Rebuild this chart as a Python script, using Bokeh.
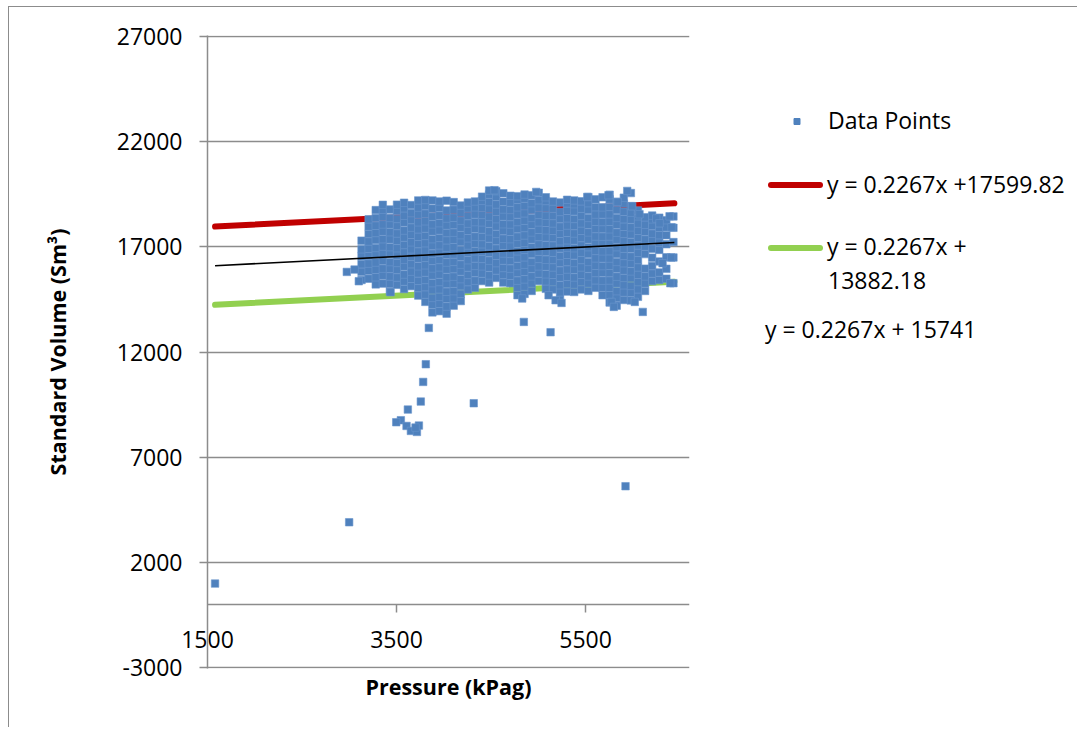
from bokeh.plotting import figure
from bokeh.layouts import row
from bokeh.models import Range1d, LinearAxis, FixedTicker, Grid
from bokeh.core.properties import value
from bokeh.embed import file_html
from bokeh.resources import INLINE

# ---------------- data ----------------
# main cloud: pressure column (kPag) and the volumes (Sm3) read in that column
cloud_pressure = [3130, 3205, 3280, 3355, 3430, 3505, 3580, 3655, 3730, 3805, 3880,
                  3955, 4030, 4105, 4180, 4255, 4330, 4405, 4480, 4555, 4630, 4705,
                  4780, 4855, 4930, 5005, 5080, 5155, 5230, 5305, 5380, 5455, 5530,
                  5605, 5680, 5755, 5830, 5905, 5980, 6055, 6130, 6205, 6280, 6355, 6430]
cloud_volume = [
    [15420, 15810, 16170, 16540, 16880, 17290],
    [15480, 15860, 16200, 16560, 16900, 17250, 17610, 17960, 18300],
    [15210, 15550, 15910, 16250, 16620, 16940, 17320, 17650, 18000, 18370, 18740],
    [15250, 15630, 15960, 16330, 16670, 17010, 17360, 17720, 18060, 18420, 18760, 18990],
    [14870, 15240, 15590, 15950, 16270, 16660, 16980, 17350, 17690, 18060, 18370, 18770],
    [15190, 15540, 15900, 16230, 16590, 16930, 17280, 17630, 17990, 18320, 18700, 19000],
    [14990, 15350, 15680, 16060, 16380, 16750, 17080, 17440, 17770, 18150, 18470, 18830, 19090],
    [15130, 15480, 15820, 16170, 16520, 16880, 17210, 17570, 17910, 18270, 18600, 18980],
    [14680, 15040, 15380, 15740, 16070, 16440, 16770, 17130, 17470, 17830, 18160, 18530, 18860, 19200],
    [14380, 14730, 15080, 15420, 15780, 16120, 16470, 16820, 17170, 17510, 17870, 18210, 18570, 18930, 19220],
    [13880, 14250, 14570, 14940, 15270, 15640, 15970, 16330, 16670, 17030, 17360, 17730, 18060, 18430, 18810, 19200],
    [13940, 14290, 14620, 14980, 15320, 15680, 16020, 16370, 16720, 17070, 17420, 17780, 18120, 18480, 18850, 19150],
    [13820, 14160, 14530, 14860, 15230, 15550, 15920, 16250, 16620, 16950, 17310, 17650, 18010, 18340, 18720, 19190],
    [14200, 14550, 14890, 15250, 15580, 15940, 16280, 16640, 16980, 17330, 17670, 18030, 18380, 18760, 19120],
    [14420, 14760, 15130, 15460, 15830, 16150, 16520, 16850, 17220, 17550, 17910, 18240, 18610, 18960],
    [14970, 15320, 15660, 16020, 16360, 16720, 17060, 17400, 17760, 18100, 18460, 18830, 19100],
    [15050, 15390, 15760, 16090, 16450, 16780, 17150, 17480, 17850, 18170, 18540, 18870, 19150],
    [15370, 15730, 16070, 16420, 16770, 17120, 17460, 17820, 18160, 18510, 18850, 19180, 19380],
    [15300, 15640, 16010, 16340, 16710, 17030, 17400, 17730, 18100, 18430, 18800, 19120, 19480, 19670],
    [15520, 15880, 16220, 16570, 16910, 17270, 17610, 17970, 18310, 18660, 19010, 19370, 19640],
    [15300, 15660, 15990, 16350, 16680, 17050, 17380, 17750, 18070, 18440, 18770, 19140, 19540],
    [15270, 15620, 15960, 16320, 16660, 17020, 17360, 17710, 18060, 18410, 18750, 19100, 19420],
    [14700, 15060, 15390, 15750, 16080, 16450, 16780, 17150, 17470, 17840, 18170, 18540, 18870, 19230, 19400],
    [14760, 15110, 15450, 15810, 16150, 16500, 16850, 17190, 17540, 17890, 18240, 18590, 18930, 19290, 19480],
    [14900, 15260, 15590, 15960, 16280, 16650, 16980, 17350, 17680, 18040, 18370, 18740, 19070, 19440],
    [15370, 15730, 16070, 16420, 16770, 17120, 17460, 17810, 18160, 18510, 18860, 19210, 19560],
    [15000, 15360, 15690, 16060, 16380, 16750, 17080, 17450, 17780, 18140, 18470, 18840, 19170, 19350],
    [14970, 15330, 15670, 16020, 16370, 16720, 17060, 17410, 17760, 18110, 18460, 18810, 19150],
    [14480, 14840, 15170, 15540, 15860, 16230, 16560, 16930, 17260, 17620, 17950, 18320, 18650, 19100],
    [14870, 15230, 15570, 15920, 16270, 16620, 16960, 17310, 17660, 18010, 18350, 18710, 19060, 19230],
    [14850, 15210, 15540, 15910, 16230, 16600, 16930, 17300, 17630, 17990, 18320, 18690, 19020, 19200],
    [14970, 15330, 15670, 16020, 16370, 16720, 17060, 17410, 17760, 18110, 18460, 18810, 19160],
    [14900, 15260, 15590, 15960, 16280, 16650, 16980, 17350, 17680, 18040, 18370, 18740, 19070, 19360],
    [15050, 15410, 15750, 16100, 16450, 16800, 17140, 17490, 17840, 18190, 18530, 18880, 19250],
    [14700, 15060, 15390, 15760, 16080, 16450, 16780, 17150, 17480, 17840, 18170, 18540, 18870, 19350],
    [14350, 14710, 15050, 15400, 15750, 16100, 16440, 16790, 17140, 17490, 17830, 18190, 18540, 18890, 19250, 19470],
    [14200, 14560, 14890, 15260, 15580, 15950, 16280, 16650, 16980, 17340, 17670, 18040, 18370, 18740, 19130],
    [14470, 14830, 15170, 15520, 15870, 16220, 16560, 16910, 17260, 17610, 17950, 18310, 18660, 19050, 19330],
    [14450, 14810, 15140, 15510, 15830, 16200, 16530, 16900, 17230, 17590, 17920, 18290, 18620, 18930, 19550],
    [14620, 14980, 15320, 15670, 16020, 16370, 16710, 17060, 17410, 17760, 18100, 18450, 18720],
    [14900, 15260, 15590, 15960, 16650, 17010, 17340, 17710, 18040, 18400],
    [15370, 15730, 16080, 16480, 16900, 17280, 17620, 17980, 18300, 18480],
    [15420, 15780, 16300, 16850, 17200, 17550, 17900, 18120, 18380],
    [15480, 15950, 16500, 17120, 17550, 17930, 18260],
    [15270, 16490, 17220, 17900, 18440],
]
# scattered points away from the main cloud
outlier_pressure = [1580, 2999, 2974, 3056, 3101, 3437, 3842, 4847, 5130, 6106, 4830,
                    5109, 5183, 5246, 5775, 5799, 6021, 6315, 6397, 6407, 6410, 6389,
                    4537, 4978, 5518, 5743, 5941, 5839, 5994, 6071, 6248, 6283,
                    3810, 3782, 3757, 4317, 3620, 3546, 3497, 3606, 3652, 3716, 3737,
                    3701, 5923]
outlier_volume = [1000, 3914, 15803, 15917, 15362, 14839, 13143, 13428, 12939, 13903, 14540,
                  14697, 14459, 14331, 14378, 14141, 14378, 16217, 15267, 16487, 17926, 18445,
                  19684, 19603, 19366, 19447, 19651, 19128, 18924, 18544, 18340, 18117,
                  11419, 10578, 9647, 9566, 9267, 8759, 8664, 8488, 8251, 8203, 8507,
                  8412, 5624]

# trend lines  y = slope * x + intercept
slope = 0.2267
upper_intercept = 17599.82
lower_intercept = 13882.18
fit_intercept = 15741
trend_x = [1580, 6440]

x_ticks = [1500, 3500, 5500]
y_ticks = [-3000, 2000, 7000, 12000, 17000, 22000, 27000]

legend_points = "Data Points"
legend_upper = "y = 0.2267x +17599.82"
legend_lower_1 = "y = 0.2267x +"
legend_lower_2 = "13882.18"
fit_label = "y = 0.2267x + 15741"
x_title = "Pressure (kPag)"
y_title = "Standard Volume (Sm\u00b3)"

# ---------------- build ----------------
pts_x, pts_y = [], []
for xc, ys in zip(cloud_pressure, cloud_volume):
    pts_x += [xc] * len(ys)
    pts_y += ys
pts_x += outlier_pressure
pts_y += outlier_volume

FONT = "Open Sans"
GRID = "#8c8c8c"
BLUE = "#4F81BD"
RED = "#C00000"
GREEN = "#92D050"

p = figure(width=690, height=720, output_backend="svg", toolbar_location=None,
           x_range=Range1d(1500, 6600), y_range=Range1d(-3033.5, 27033.5),
           x_axis_type=None, y_axis_type=None,
           min_border_left=198, min_border_right=10, min_border_top=28, min_border_bottom=59,
           outline_line_color=None, background_fill_color="white", border_fill_color="white")

p.add_layout(Grid(dimension=1, ticker=FixedTicker(ticks=y_ticks),
                  grid_line_color=GRID, grid_line_width=1.5))

yaxis = LinearAxis(ticker=FixedTicker(ticks=y_ticks),
                   major_label_overrides={t: str(t) for t in y_ticks},
                   axis_label=y_title, axis_label_standoff=42,
                   axis_label_text_font=FONT, axis_label_text_font_style="bold",
                   axis_label_text_font_size="21.5px", axis_label_text_color="black",
                   major_label_text_font=FONT, major_label_text_font_size="23px",
                   major_label_text_color="black", major_label_standoff=17,
                   axis_line_color=GRID, axis_line_width=1.5,
                   major_tick_line_color=GRID, major_tick_line_width=1.5,
                   major_tick_out=8, major_tick_in=0, minor_tick_line_color=None)
p.add_layout(yaxis, "left")

# tick labels + title of the horizontal axis (labels lifted up into the band below y = 0)
xlabels = LinearAxis(ticker=FixedTicker(ticks=x_ticks),
                     major_label_overrides={t: str(t) for t in x_ticks},
                     major_label_text_font=FONT, major_label_text_font_size="23px",
                     major_label_text_color="black", major_label_standoff=-38,
                     axis_label=x_title, axis_label_standoff=21,
                     axis_label_text_font=FONT, axis_label_text_font_style="bold",
                     axis_label_text_font_size="21.5px", axis_label_text_color="black",
                     axis_line_color=None, major_tick_line_color=None,
                     major_tick_out=0, major_tick_in=0, minor_tick_line_color=None)
p.add_layout(xlabels, "below")

# the horizontal axis line itself, crossing at y = 0
xline = LinearAxis(ticker=FixedTicker(ticks=x_ticks[1:]), fixed_location=0,
                   major_label_overrides={t: "" for t in x_ticks[1:]},
                   major_label_standoff=0, major_label_text_font_size="1px",
                   axis_line_color=GRID, axis_line_width=1.5,
                   major_tick_line_color=GRID, major_tick_line_width=1.5,
                   major_tick_out=8, major_tick_in=0, minor_tick_line_color=None)
p.add_layout(xline, "below")

p.line(trend_x, [slope * x + upper_intercept for x in trend_x],
       line_color=RED, line_width=6, line_cap="round")
p.line(trend_x, [slope * x + lower_intercept for x in trend_x],
       line_color=GREEN, line_width=6, line_cap="round")
p.scatter(pts_x, pts_y, marker="square", size=7.5,
          fill_color=BLUE, line_color="#6a96cc", line_width=0.6)
p.line(trend_x, [slope * x + fit_intercept for x in trend_x],
       line_color="black", line_width=1.6)

# ---------------- legend panel (pixel coordinates; frame aligned with the chart) ----------------
leg = figure(width=378, height=720, output_backend="svg", toolbar_location=None,
             x_range=Range1d(0, 378), y_range=Range1d(0, 633),
             x_axis_type=None, y_axis_type=None,
             min_border_left=0, min_border_right=0, min_border_top=28, min_border_bottom=59,
             outline_line_color=None, background_fill_color="white", border_fill_color="white")
leg.scatter([97.5], [547], marker="square", size=6, fill_color=BLUE, line_color=BLUE)
leg.line([71.5, 120.5], [483.5, 483.5], line_color=RED, line_width=6, line_cap="round")
leg.line([71.5, 120.5], [420.5, 420.5], line_color=GREEN, line_width=6, line_cap="round")
leg.text(x=[128.5, 127.5, 127.5, 128.5, 65.5],
         y=[548.5, 485, 422.5, 388.5, 339.5],
         text=[legend_points, legend_upper, legend_lower_1, legend_lower_2, fit_label],
         text_font=value(FONT), text_font_size=value("23px"), text_color="black",
         text_baseline="alphabetic", text_align="left")

layout = row(p, leg, styles={"margin-left": "8px", "margin-top": "6px",
                             "border-left": "1.5px solid #8c8c8c",
                             "border-top": "1.5px solid #8c8c8c"})

open("out.html", "w").write(file_html(layout, INLINE))
